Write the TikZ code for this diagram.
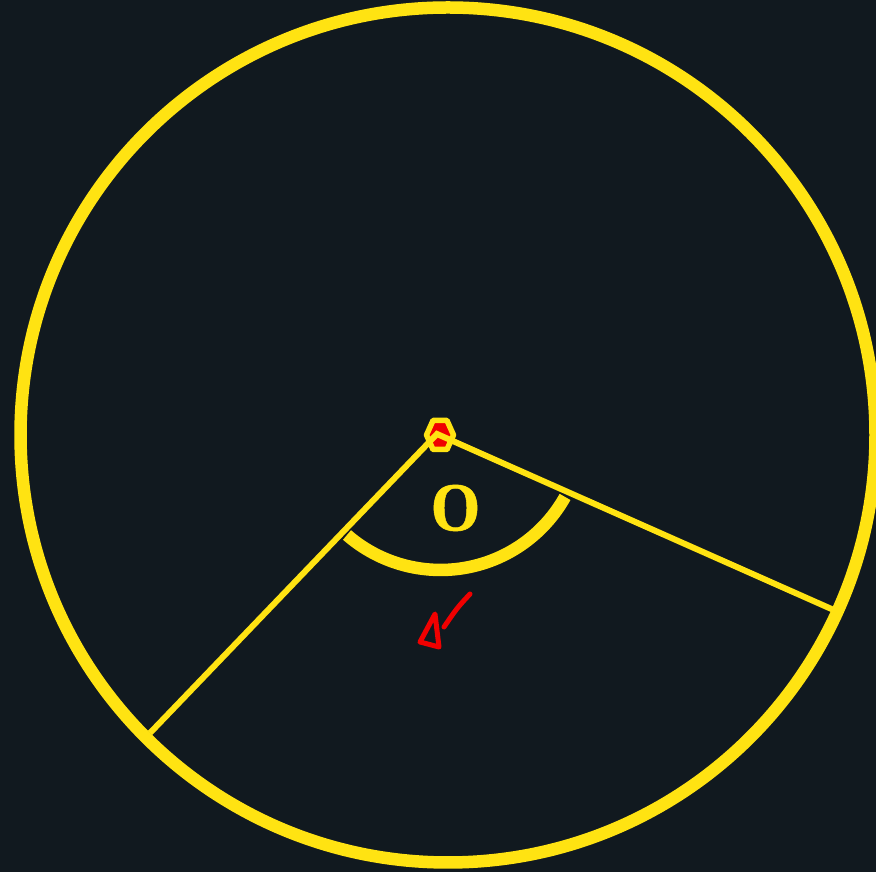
\documentclass[tikz,border=0pt]{standalone}
\usepackage{fontspec}
\newfontfamily\lblfont[FakeBold=0.8]{Liberation Serif Bold}
\definecolor{bg}{HTML}{11191F}
\definecolor{yel}{HTML}{FFE312}
\definecolor{rd}{HTML}{F00000}
\tikzset{
  rim/.style={draw=yel, line width=12.5pt},
  radius line/.style={draw=yel, line width=6pt, line join=miter},
  angle arc/.style={draw=yel, line width=12.5pt},
  marker/.style={draw=yel, fill=rd, line width=5.5pt, line join=round},
  scribble/.style={draw=rd, line width=5pt, line cap=round, line join=round},
}
\begin{document}
\begin{tikzpicture}[x=1pt,y=1pt]
\fill[bg] (0,0) rectangle (876,872);
\useasboundingbox (0,0) rectangle (876,872);
% circle
\coordinate (C) at (448,437);
\draw[rim] (C) circle[radius=427.5];
% hexagon marker at centre
\draw[marker] (433,451.5) -- (447,451.5) -- (453.5,437) -- (447,422.5) -- (433,422.5) -- (426.5,437) -- cycle;
% radii
\coordinate (O) at (437,438);
\coordinate (A) at (150,139);
\coordinate (B) at (836,261);
\draw[radius line] (A) -- (O) -- (B);
% angle arc
\coordinate (arcstart) at (347,337);
\draw[angle arc] (arcstart) arc[start angle=-131, end angle=-29.2, radius=142.6];
% label
\node[text=yel, inner sep=0pt] (lbl) at (455.5,364) {\scalebox{0.92}[1]{\lblfont\fontsize{69}{69}\selectfont O}};
% red hand-drawn arrow
\coordinate (s1) at (470,278);
\coordinate (s2) at (444,245);
\draw[scribble] (s1) .. controls (457,264) .. (s2);
\draw[scribble] (435,258) -- (420,230) -- (439,225) -- cycle;
\end{tikzpicture}
\end{document}
